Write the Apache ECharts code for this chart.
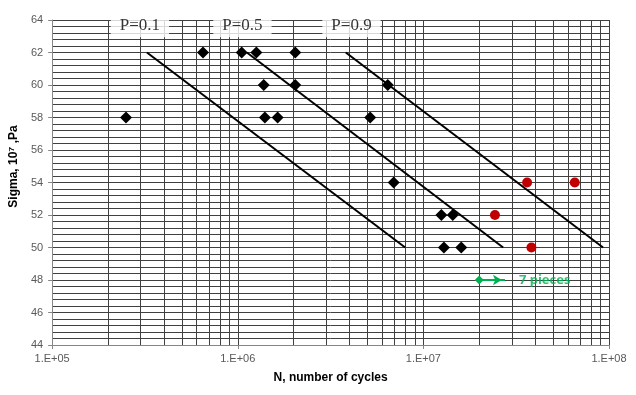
<!DOCTYPE html>
<html>
<head>
<meta charset="utf-8">
<script src="https://cdn.jsdelivr.net/npm/echarts@6/dist/echarts.min.js"></script>
<style>
  html, body { margin: 0; padding: 0; background: #fff; }
  #chart { width: 636px; height: 395px; }
</style>
</head>
<body>
<div id="chart"></div>
<script>
// test points, N (cycles) / sigma
var blackN = [2.5e5, 6.5e5, 1.05e6, 1.26e6, 2.04e6, 1.38e6, 2.04e6, 1.40e6, 1.64e6, 6.43e6, 5.17e6, 6.92e6, 1.25e7, 1.44e7, 1.29e7, 1.60e7];
var blackS = [58, 62, 62, 62, 62, 60, 60, 58, 58, 60, 58, 54, 52, 52, 50, 50];
var redN = [3.62e7, 6.54e7, 2.43e7, 3.82e7];
var redS = [54, 54, 52, 50];

// probability lines (start, end)
var p01 = [[3.24e5, 62], [7.98e6, 50]];
var p05 = [[1.12e6, 62], [2.69e7, 50]];
var p09 = [[3.82e6, 62], [9.29e7, 50]];
var pLabels = ['P=0.1', 'P=0.5', 'P=0.9'];
var pLabelPos = [[2.97e5, 63.65], [1.06e6, 63.65], [4.1e6, 63.65]];

// arrow "7 pieces"
var arrow = [[2.0e7, 48], [2.75e7, 48]];
var arrowText = '7 pieces';

// log minor grid lines
var minorN = [2e5, 3e5, 4e5, 5e5, 6e5, 7e5, 8e5, 9e5,
              2e6, 3e6, 4e6, 5e6, 6e6, 7e6, 8e6, 9e6,
              2e7, 3e7, 4e7, 5e7, 6e7, 7e7, 8e7, 9e7];

function pairs(xs, ys) {
    var res = [];
    for (var i = 0; i < xs.length; i++) res.push([xs[i], ys[i]]);
    return res;
}

var gridColor = '#404040';
var chart = echarts.init(document.getElementById('chart'));
var option = {
    animation: false,
    grid: { left: 51, right: 27, top: 20, bottom: 50 },
    xAxis: {
        type: 'log',
        logBase: 10,
        min: 1e5,
        max: 1e8,
        name: 'N, number of cycles',
        nameLocation: 'middle',
        nameGap: 27,
        nameTextStyle: { fontFamily: 'Liberation Sans', fontWeight: 'bold', fontSize: 12, color: '#000' },
        axisLine: { lineStyle: { color: '#868686' } },
        axisTick: { show: true, length: 4, lineStyle: { color: '#868686' } },
        axisLabel: {
            margin: 8,
            fontFamily: 'Liberation Sans', fontSize: 11, color: '#595959',
            formatter: function (v) {
                var e = Math.round(Math.log10(v));
                return '1.E+' + (e < 10 ? '0' : '') + e;
            }
        },
        splitLine: { show: true, lineStyle: { color: gridColor, width: 1 } },
        minorTick: { show: false },
        minorSplitLine: { show: false }
    },
    yAxis: {
        type: 'value',
        min: 44,
        max: 64,
        interval: 2,
        name: 'Sigma, 10\u2077 ,Pa',
        nameLocation: 'middle',
        nameGap: 30,
        nameRotate: 90,
        nameTextStyle: { fontFamily: 'Liberation Sans', fontWeight: 'bold', fontSize: 12, color: '#000', padding: [0, 0, 0, 32] },
        axisLine: { show: true, lineStyle: { color: '#868686' } },
        axisTick: { show: true, length: 4, lineStyle: { color: '#868686' } },
        axisLabel: { margin: 9, fontFamily: 'Liberation Sans', fontSize: 11, color: '#595959' },
        splitLine: { show: true, lineStyle: { color: gridColor, width: 1 } },
        minorTick: { show: false, splitNumber: 5 },
        minorSplitLine: { show: true, lineStyle: { color: gridColor, width: 1 } }
    },
    series: [
        {
            name: 'black',
            type: 'scatter',
            symbol: 'diamond',
            symbolSize: 12,
            itemStyle: { color: '#000', opacity: 1 },
            data: pairs(blackN, blackS),
            z: 5,
            markLine: {
                silent: true,
                symbol: 'none',
                label: { show: false },
                lineStyle: { color: gridColor, width: 1, type: 'solid' },
                emphasis: { disabled: true },
                data: minorN.map(function (n) { return { xAxis: n }; }),
                z: 1
            }
        },
        {
            name: 'red',
            type: 'scatter',
            symbol: 'circle',
            symbolSize: 10,
            itemStyle: { color: '#c00000', opacity: 1 },
            data: pairs(redN, redS),
            z: 5
        },
        { type: 'line', data: p01, symbol: 'none', lineStyle: { color: '#000', width: 2 }, z: 4 },
        { type: 'line', data: p05, symbol: 'none', lineStyle: { color: '#000', width: 2 }, z: 4 },
        { type: 'line', data: p09, symbol: 'none', lineStyle: { color: '#000', width: 2 }, z: 4 },
        {
            type: 'scatter',
            symbolSize: 0,
            data: pLabelPos.map(function (p, i) { return { value: p, name: pLabels[i] }; }),
            label: {
                show: true,
                position: 'inside',
                formatter: '{b}',
                fontFamily: 'Liberation Serif',
                fontSize: 17,
                color: '#000',
                backgroundColor: '#fff',
                padding: [3, 9, 3, 9]
            },
            z: 8
        },
        {
            type: 'line',
            data: arrow,
            symbol: 'none',
            lineStyle: { color: '#00b050', width: 2 },
            z: 6,
            markPoint: {
                silent: true,
                data: [
                    { coord: arrow[0], symbol: 'diamond', symbolSize: 9, itemStyle: { color: '#00b050' }, label: { show: false } },
                    { coord: arrow[1], symbol: 'arrow', symbolSize: [8, 9], symbolRotate: -90, symbolOffset: [-3, 0], itemStyle: { color: '#00b050' }, label: { show: false } }
                ]
            }
        },
        {
            type: 'scatter',
            symbolSize: 0,
            data: [{ value: arrow[1], name: arrowText }],
            label: {
                show: true,
                position: 'right',
                distance: 14,
                formatter: '{b}',
                fontFamily: 'Noto Sans',
                fontWeight: 'bold',
                fontSize: 13,
                color: '#00b050'
            },
            z: 8
        }
    ]
};
chart.setOption(option);
</script>
</body>
</html>
